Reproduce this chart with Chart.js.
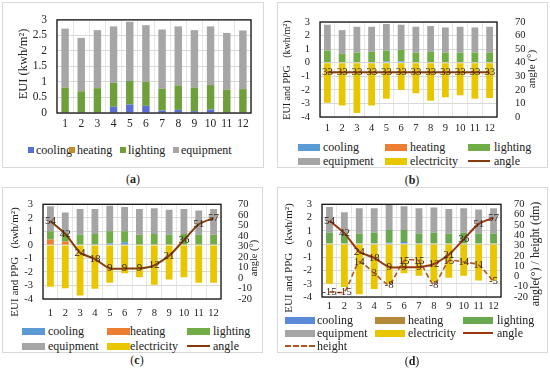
<!DOCTYPE html>
<html>
<head>
<meta charset="utf-8">
<script src="https://cdn.jsdelivr.net/npm/chart.js@4"></script>
<style>
body{margin:0;background:#fff;width:550px;height:368px;position:relative;overflow:hidden;font-family:"Liberation Serif",serif;color:#222}
.box{position:absolute;border:1px solid #d9d9d9;box-sizing:border-box}
canvas{position:absolute}
.sw{position:absolute}
.lt{position:absolute;font-size:12px;line-height:12px;white-space:nowrap;transform:translateY(-50%)}
.cap{position:absolute;font-size:12px;transform:translate(-50%,-50%)}
</style>
</head>
<body>
<script>
const months = ['1','2','3','4','5','6','7','8','9','10','11','12'];

// (a)
const aCooling   = [0, 0, 0, 0.2, 0.27, 0.23, 0.08, 0.1, 0.06, 0.11, 0, 0];
const aHeating   = [0, 0, 0, 0, 0, 0, 0, 0, 0, 0, 0, 0];
const aLighting  = [0.82, 0.70, 0.80, 0.77, 0.76, 0.77, 0.70, 0.79, 0.76, 0.79, 0.75, 0.77];
const aEquipment = [1.90, 1.72, 1.87, 1.82, 1.91, 1.83, 1.91, 1.90, 1.85, 1.89, 1.83, 1.89];

// (b)
const bCooling     = [0, 0, 0, 0.05, 0.1, 0.1, 0, 0, 0, 0, 0, 0];
const bHeating     = [0, 0, 0, 0, 0, 0, 0, 0, 0, 0, 0, 0];
const bLighting    = [0.9, 0.65, 0.75, 0.75, 0.8, 0.85, 0.75, 0.8, 0.75, 0.75, 0.75, 0.75];
const bEquipment   = [1.9, 1.75, 1.9, 1.85, 1.95, 1.85, 1.9, 1.9, 1.85, 1.9, 1.85, 1.9];
const bElectricity = [-2.95, -3.15, -3.7, -3.15, -2.65, -2.0, -2.25, -2.8, -2.55, -2.4, -2.65, -2.6];
const bAngle       = [33, 33, 33, 33, 33, 33, 33, 33, 33, 33, 33, 33];

// (c)
const cCooling     = [0, 0, 0, 0.05, 0.1, 0.2, 0, 0, 0, 0, 0, 0];
const cHeating     = [0.4, 0.25, 0, 0, 0, 0, 0, 0, 0, 0, 0, 0];
const cLighting    = [0.6, 0.55, 0.75, 0.75, 0.9, 0.8, 0.75, 0.8, 0.75, 0.8, 0.75, 0.75];
const cEquipment   = [1.85, 1.6, 1.9, 1.85, 1.9, 1.8, 1.9, 1.9, 1.85, 1.85, 1.8, 1.9];
const cElectricity = [-3.1, -3.2, -3.75, -3.25, -2.8, -2.1, -2.4, -2.95, -2.55, -2.4, -2.8, -2.8];
const cAngle       = [54, 42, 24, 18, 9, 9, 9, 12, 21, 36, 51, 57];

// (d)
const dCooling     = [0, 0, 0, 0.05, 0.1, 0.15, 0, 0, 0, 0, 0, 0];
const dHeating     = [0, 0, 0, 0, 0, 0, 0, 0, 0, 0, 0, 0];
const dLighting    = [0.85, 0.75, 0.8, 0.8, 0.95, 0.9, 0.8, 0.85, 0.8, 0.85, 0.8, 0.8];
const dEquipment   = [1.95, 1.65, 1.9, 1.85, 1.9, 1.8, 1.9, 1.9, 1.85, 1.85, 1.8, 1.9];
const dElectricity = [-3.0, -3.25, -3.8, -3.4, -3.0, -2.2, -2.4, -2.85, -2.55, -2.4, -2.75, -2.75];
const dAngle       = [54, 42, 24, 18, 9, 9, 9, 12, 21, 36, 51, 57];
const dHeight      = [-15, -15, 14, 3, -8, 15, 15, -8, 15, 14, 11, -5];

Chart.defaults.font.family = "'Liberation Serif', serif";
Chart.defaults.color = '#222';

// black frame round the plot area
const frame = {
  id: 'frame',
  afterDatasetsDraw(c) {
    const a = c.chartArea, x = c.ctx;
    x.save();
    x.strokeStyle = '#111';
    x.lineWidth = 1.3;
    x.strokeRect(a.left, a.top, a.right - a.left, a.bottom - a.top);
    x.restore();
  }
};

// numbers on the line points
const valueLabels = {
  id: 'valueLabels',
  afterDraw(c) {
    const x = c.ctx;
    c.data.datasets.forEach((d, i) => {
      if (!d.showValues) return;
      const meta = c.getDatasetMeta(i);
      x.save();
      x.font = "11px 'Liberation Serif'";
      x.fillStyle = '#3a261a';
      x.textAlign = 'center';
      x.textBaseline = 'middle';
      meta.data.forEach((p, j) => x.fillText(String(d.data[j]), p.x, p.y));
      x.restore();
    });
  }
};

// rotated axis titles, both read bottom to top
const sideTitles = {
  id: 'sideTitles',
  afterDraw(c, args, opts) {
    const x = c.ctx;
    (opts.items || []).forEach(t => {
      x.save();
      x.font = (t.size || 11) + "px 'Liberation Serif'";
      x.fillStyle = '#222';
      x.textAlign = 'center';
      x.textBaseline = 'middle';
      x.translate(t.x, t.y);
      x.rotate(-Math.PI / 2);
      x.fillText(t.text, 0, 0);
      x.restore();
    });
  }
};

function box(l, t, w, h) {
  const d = document.createElement('div');
  d.className = 'box';
  Object.assign(d.style, {left: l + 'px', top: t + 'px', width: w + 'px', height: h + 'px'});
  document.body.appendChild(d);
}

function canvasAt(l, t, w, h) {
  const c = document.createElement('canvas');
  c.width = w; c.height = h;
  Object.assign(c.style, {left: l + 'px', top: t + 'px', width: w + 'px', height: h + 'px'});
  document.body.appendChild(c);
  return c;
}

function caption(html, x, y) {
  const d = document.createElement('div');
  d.className = 'cap';
  d.innerHTML = html;
  Object.assign(d.style, {left: x + 'px', top: y + 'px'});
  document.body.appendChild(d);
}

function bars(label, data, color) {
  return {type: 'bar', label, data, backgroundColor: color, stack: 's', yAxisID: 'y',
    barPercentage: 0.46, categoryPercentage: 1, order: 2};
}

function line(label, data, color, dash) {
  return {type: 'line', label, data, borderColor: color, backgroundColor: color,
    borderWidth: dash ? 1.6 : 2, borderDash: dash || [], pointRadius: 0, tension: 0.2,
    yAxisID: 'y1', order: 0, showValues: true};
}

const plain = v => String(Math.round(v * 10) / 10);

function scales(p) {
  const s = {
    x: {stacked: true, offset: true,
      grid: {offset: true, color: '#e6e6e6', drawTicks: false}, border: {display: false},
      ticks: {padding: p.xPad, font: {size: p.fs}, color: '#222', maxRotation: 0, autoSkip: false},
      afterFit: sc => { sc.height = p.xh; }},
    y: {stacked: true, min: p.yMin, max: p.yMax,
      ticks: {stepSize: p.yStep, padding: 10, font: {size: p.fs}, color: '#222', autoSkip: false, callback: plain},
      grid: {color: '#d9d9d9', drawTicks: false}, border: {display: false},
      afterFit: sc => { sc.width = p.yw; }}
  };
  if (p.y1w) {
    s.y1 = {position: 'right', min: p.rMin, max: p.rMax,
      ticks: {stepSize: 10, padding: p.rPad, font: {size: p.fs}, color: '#222', autoSkip: false, callback: plain},
      grid: {display: false}, border: {display: false},
      afterFit: sc => { sc.width = p.y1w; }};
  }
  return s;
}

function makeChart(cv, datasets, p, titles) {
  return new Chart(cv, {
    type: 'bar',
    data: {labels: months, datasets},
    options: {
      responsive: false, animation: false, devicePixelRatio: 1,
      layout: {padding: {top: p.padTop, right: p.padRight || 0, left: 0, bottom: 0}},
      plugins: {legend: {display: false}, tooltip: {enabled: false}, sideTitles: {items: titles}},
      scales: scales(p)
    },
    plugins: [frame, valueLabels, sideTitles]
  });
}

// legend drawn as html text next to swatches
function legend(items, spots) {
  items.forEach((it, i) => {
    const s = spots[i];
    const sw = document.createElement('div');
    sw.className = 'sw';
    if (it.kind === 'box') {
      Object.assign(sw.style, {left: s.x + 'px', top: (s.y - s.h / 2) + 'px', width: s.w + 'px', height: s.h + 'px', background: it.color});
    } else {
      Object.assign(sw.style, {left: s.x + 'px', top: (s.y - 1) + 'px', width: s.w + 'px', height: '0px',
        borderTop: '2px ' + (it.kind === 'dash' ? 'dashed ' : 'solid ') + it.color});
    }
    document.body.appendChild(sw);
    const t = document.createElement('div');
    t.className = 'lt';
    t.textContent = it.label;
    Object.assign(t.style, {left: s.tx + 'px', top: s.y + 'px'});
    document.body.appendChild(t);
  });
}

function grid3(cols, texts, rows, w, h) {
  const out = [];
  rows.forEach(y => cols.forEach((x, k) => out.push({x, y, w, h, tx: texts[k]})));
  return out;
}

// ---------- (a)
box(2, 2, 262, 166);
const cvA = canvasAt(3, 3, 259, 130);
makeChart(cvA, [
  bars('cooling', aCooling, '#5a6fd4'),
  bars('heating', aHeating, '#c68b2b'),
  bars('lighting', aLighting, '#6f9f3b'),
  bars('equipment', aEquipment, '#a6a6a6')
], {padTop: 13, padRight: 11, yw: 54, xh: 20, xPad: 4, fs: 11.5, yMin: 0, yMax: 3, yStep: 0.5},
[{text: 'EUI (kwh/m²)', x: 21, y: 61, size: 12.5}]);
legend([
  {label: 'cooling', color: '#5a6fd4', kind: 'box'},
  {label: 'heating', color: '#c68b2b', kind: 'box'},
  {label: 'lighting', color: '#6f9f3b', kind: 'box'},
  {label: 'equipment', color: '#a6a6a6', kind: 'box'}
], [
  {x: 28, y: 150, w: 6, h: 6, tx: 36},
  {x: 69, y: 150, w: 6, h: 6, tx: 77},
  {x: 120, y: 150, w: 6, h: 6, tx: 128},
  {x: 173, y: 150, w: 6, h: 6, tx: 181}
]);
caption('(<b>a</b>)', 133, 179);

// ---------- (b)
box(277, 2, 271, 166);
const cvB = canvasAt(278, 3, 269, 135);
makeChart(cvB, [
  bars('cooling', bCooling, '#5b9bd5'),
  bars('heating', bHeating, '#ed7d31'),
  bars('lighting', bLighting, '#70ad47'),
  bars('equipment', bEquipment, '#a5a5a5'),
  bars('electricity', bElectricity, '#e8c600'),
  line('angle', bAngle, '#843c0c')
], {padTop: 19, yw: 42, y1w: 50, xh: 21, xPad: 5, rPad: 10, fs: 10.5, yMin: -4, yMax: 3, yStep: 1, rMin: 0, rMax: 70},
[{text: 'EUI and PPG   (kwh/m²)', x: 9, y: 67, size: 10}, {text: 'angle (°)', x: 254, y: 66, size: 11}]);
legend([
  {label: 'cooling', color: '#5b9bd5', kind: 'box'},
  {label: 'heating', color: '#ed7d31', kind: 'box'},
  {label: 'lighting', color: '#70ad47', kind: 'box'},
  {label: 'equipment', color: '#a5a5a5', kind: 'box'},
  {label: 'electricity', color: '#e8c600', kind: 'box'},
  {label: 'angle', color: '#843c0c', kind: 'line'}
], grid3([298, 385, 468], [323, 410, 494], [147, 161], 22, 7));
caption('(<b>b</b>)', 412, 180);

// ---------- (c)
box(2, 187, 261, 166);
const cvC = canvasAt(3, 188, 259, 135);
makeChart(cvC, [
  bars('cooling', cCooling, '#5b9bd5'),
  bars('heating', cHeating, '#ed7d31'),
  bars('lighting', cLighting, '#70ad47'),
  bars('equipment', cEquipment, '#a5a5a5'),
  bars('electricity', cElectricity, '#e8c600'),
  line('angle', cAngle, '#843c0c')
], {padTop: 16, yw: 40, y1w: 41, xh: 24, xPad: 8, rPad: 9, fs: 10.5, yMin: -4, yMax: 3, yStep: 1, rMin: -20, rMax: 70},
[{text: 'EUI and PPG   (kwh/m²)', x: 12, y: 74, size: 11}, {text: 'angle (°)', x: 251, y: 70, size: 10.5}]);
legend([
  {label: 'cooling', color: '#5b9bd5', kind: 'box'},
  {label: 'heating', color: '#ed7d31', kind: 'box'},
  {label: 'lighting', color: '#70ad47', kind: 'box'},
  {label: 'equipment', color: '#a5a5a5', kind: 'box'},
  {label: 'electricity', color: '#e8c600', kind: 'box'},
  {label: 'angle', color: '#843c0c', kind: 'line'}
], grid3([22, 107, 187], [48, 130, 213], [331, 346], 23, 7));
caption('(<b>c</b>)', 137, 360);

// ---------- (d)
box(277, 187, 271, 166);
const cvD = canvasAt(278, 188, 269, 130);
makeChart(cvD, [
  bars('cooling', dCooling, '#5b8bd8'),
  bars('heating', dHeating, '#b48a3a'),
  bars('lighting', dLighting, '#6aa84f'),
  bars('equipment', dEquipment, '#a5a5a5'),
  bars('electricity', dElectricity, '#e8c600'),
  line('angle', dAngle, '#983610'),
  line('height', dHeight, '#b0541f', [5, 3])
], {padTop: 11, yw: 44, y1w: 46, xh: 21, xPad: 3, rPad: 5, fs: 10.5, yMin: -4, yMax: 3, yStep: 1, rMin: -20, rMax: 70},
[{text: 'EUI and PPG   (kwh/m²)', x: 11, y: 70, size: 11}, {text: 'angle(°) / height (dm)', x: 258, y: 66, size: 12}]);
legend([
  {label: 'cooling', color: '#5b8bd8', kind: 'box'},
  {label: 'heating', color: '#b48a3a', kind: 'box'},
  {label: 'lighting', color: '#6aa84f', kind: 'box'},
  {label: 'equipment', color: '#a5a5a5', kind: 'box'},
  {label: 'electricity', color: '#e8c600', kind: 'box'},
  {label: 'angle', color: '#983610', kind: 'line'},
  {label: 'height', color: '#b0541f', kind: 'dash'}
], grid3([285, 375, 463], [317, 408, 497], [320, 333, 346], 30, 7));
caption('(<b>d</b>)', 412, 361);
</script>
</body>
</html>
